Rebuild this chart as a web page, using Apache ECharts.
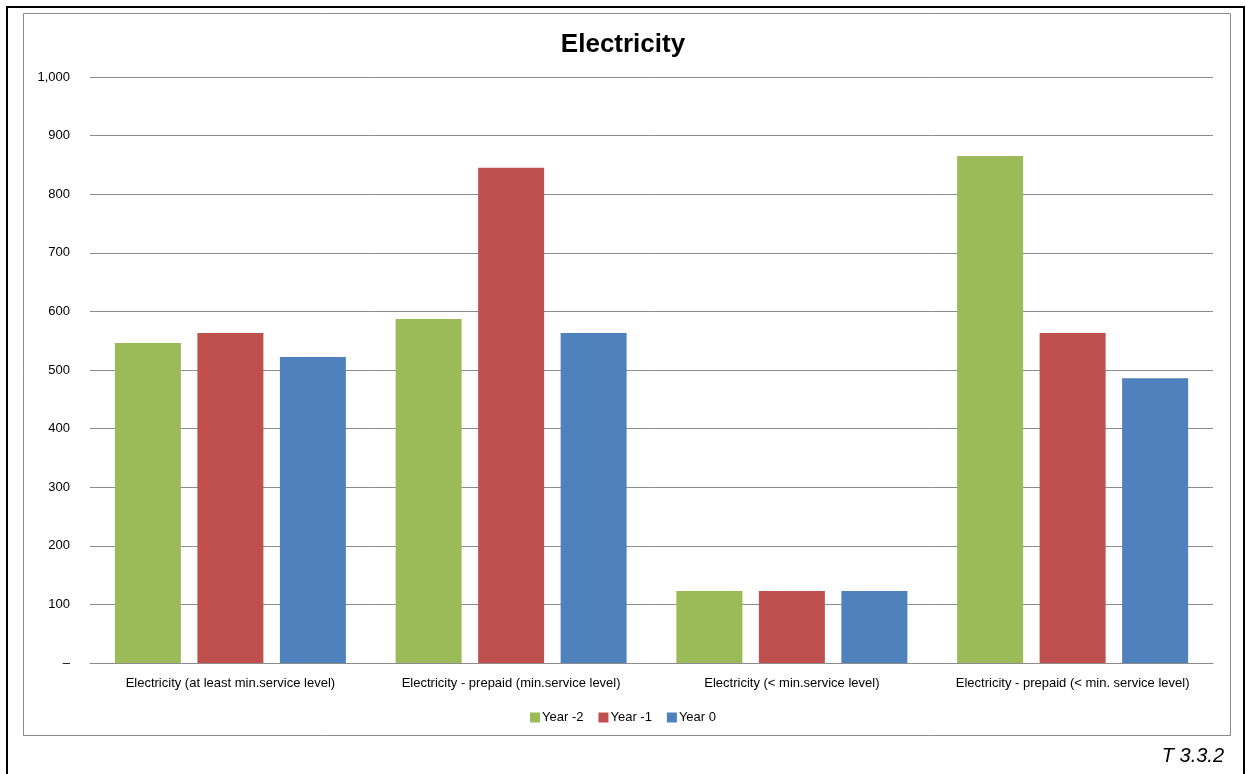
<!DOCTYPE html>
<html><head><meta charset="utf-8">
<script src="https://cdn.jsdelivr.net/npm/echarts@6/dist/echarts.min.js"></script>
<style>html,body{margin:0;padding:0;background:#fff}#c{width:1246px;height:774px}</style>
</head><body><div id="c"></div>
<script>
const categories = ['Electricity (at least min.service level)','Electricity - prepaid (min.service level)','Electricity (< min.service level)','Electricity - prepaid (< min. service level)'];
const seriesNames = ['Year -2','Year -1','Year 0'];
const yearM2 = [546, 587, 123, 865];
const yearM1 = [563, 845, 123, 563];
const year0 = [522, 563, 123, 486];
const colors = ['#9BBB59','#C0504D','#4F81BD'];
const chart = echarts.init(document.getElementById('c'));
const font = 'Liberation Sans, Arial, sans-serif';
const mk = (name, data, i) => ({name, type:'bar', data, barWidth:66, barGap:'25%', itemStyle:{color:colors[i]}});
chart.setOption({
  animation:false,
  textStyle:{fontFamily:font},
  title:{text:'Electricity', left:'center', top:27, textStyle:{fontSize:26, fontWeight:'bold', color:'#000', fontFamily:font}},
  graphic:[
    {type:'rect', shape:{x:7,y:7,width:1237,height:780}, style:{fill:'none', stroke:'#000', lineWidth:2}, z:-1},
    {type:'rect', shape:{x:23.5,y:13.5,width:1207,height:722}, style:{fill:'none', stroke:'#8c8c8c', lineWidth:1}, z:-1},
    {type:'text', right:22, top:746, style:{text:'T 3.3.2', font:'italic 20px '+font, fill:'#000'}}
  ],
  legend:{data:seriesNames, top:706, left:'center', itemWidth:10, itemHeight:10, itemGap:15, icon:'rect', textStyle:{fontSize:13, color:'#000', fontFamily:font, padding:[0,0,0,-3]}},
  grid:{left:90, right:33, top:77, bottom:111, containLabel:false},
  xAxis:{type:'category', data:categories, axisTick:{show:false}, axisLine:{lineStyle:{color:'#8c8c8c'}},
    axisLabel:{fontSize:13, color:'#000', margin:14, interval:0}},
  yAxis:{type:'value', min:0, max:1000, interval:100, axisLine:{show:false}, axisTick:{show:false},
    splitLine:{lineStyle:{color:'#8c8c8c', width:1}},
    axisLabel:{fontSize:13, color:'#000', margin:20, formatter:v=> v===0 ? '–' : v.toLocaleString('en-US')}},
  series:[mk(seriesNames[0], yearM2, 0), mk(seriesNames[1], yearM1, 1), mk(seriesNames[2], year0, 2)]
});
</script></body></html>
